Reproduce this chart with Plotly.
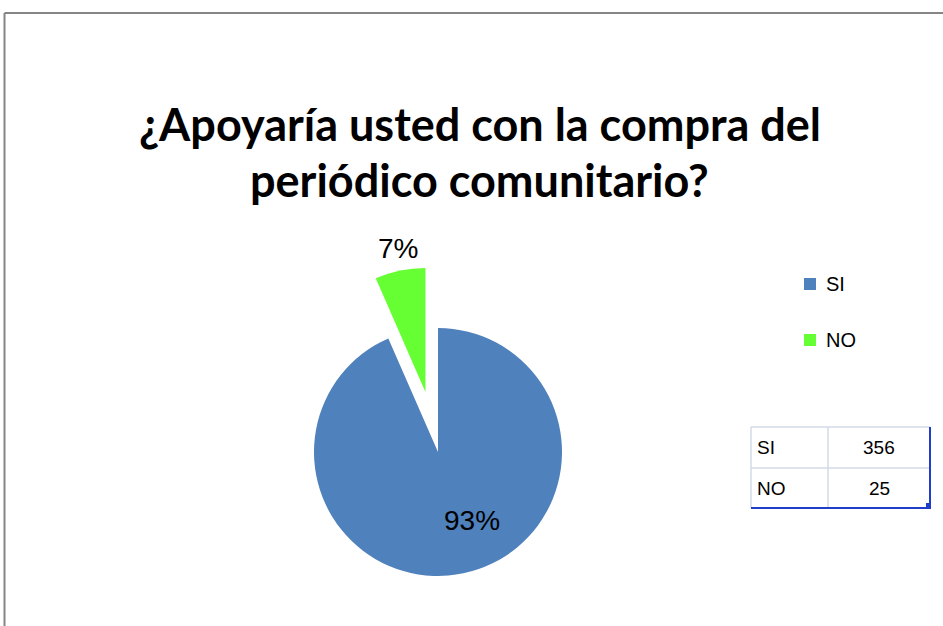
import math
import plotly.graph_objects as go

# ---- data ----
labels = ["SI", "NO"]
counts = [356, 25]
colors = ["#4F81BD", "#66FF33"]
pulls = [0, 0.495]
title_lines = ["¿Apoyaría usted con la compra del", "periódico comunitario?"]

W, H = 943, 626


def px(x):
    return x / W


def py(y):
    return 1 - y / H


# pie geometry (pixels): centre and radius of the un-pulled pie
cx, cy, r = 438, 452, 124
total = sum(counts)
# where Excel put each percentage label (pixels)
label_pos = [(472, 520), (398, 248)]

fig = go.Figure()
# one layer per slice so the exploded slice can sit outside the main pie box
start = 0.0
for i, (lab, val) in enumerate(zip(labels, counts)):
    frac = val / total
    mid = 2 * math.pi * (start + frac / 2)       # clockwise from 12 o'clock
    start += frac
    ox = pulls[i] * r * math.sin(mid)
    oy = -pulls[i] * r * math.cos(mid)
    scx, scy = cx + ox, cy + oy
    slice_colors = [c if j == i else "rgba(0,0,0,0)" for j, c in enumerate(colors)]
    fig.add_trace(go.Pie(
        labels=labels,
        values=counts,
        marker=dict(colors=slice_colors, line=dict(width=0)),
        sort=False,
        direction="clockwise",
        rotation=0,
        textinfo="none",
        showlegend=False,
        hoverinfo="label+value+percent",
        domain=dict(x=[px(scx - r), px(scx + r)],
                    y=[py(scy + r), py(scy - r)]),
    ))

shapes = []
annotations = []

# percentage labels
for i, val in enumerate(counts):
    lx, ly = label_pos[i]
    annotations.append(dict(
        text=f"{round(100 * val / total)}%", xref="paper", yref="paper",
        x=px(lx), y=py(ly), xanchor="center", yanchor="middle",
        showarrow=False,
        font=dict(family="Liberation Sans", size=28, color="black")))

# outer chart frame (cropped Excel chart area)
frame = dict(type="line", xref="paper", yref="paper",
             line=dict(color="#858585", width=2))
shapes.append(dict(frame, x0=px(4.5), x1=px(W), y0=py(13), y1=py(13)))
shapes.append(dict(frame, x0=px(4.5), x1=px(4.5), y0=py(13), y1=py(H)))

# title (two lines)
for i, line in enumerate(title_lines):
    annotations.append(dict(
        text=f"<b>{line}</b>", xref="paper", yref="paper",
        x=px(480), y=py(124 + 56 * i), xanchor="center", yanchor="middle",
        showarrow=False,
        font=dict(family="Lato", size=45, color="black")))

# legend
for i, (lab, col) in enumerate(zip(labels, colors)):
    yc = 284 + 56 * i
    shapes.append(dict(type="rect", xref="paper", yref="paper",
                       x0=px(804), x1=px(816), y0=py(yc - 6), y1=py(yc + 6),
                       fillcolor=col, line=dict(width=0)))
    annotations.append(dict(
        text=lab, xref="paper", yref="paper", x=px(824), y=py(yc),
        xanchor="left", yanchor="middle", showarrow=False,
        font=dict(family="Liberation Sans", size=20, color="black")))

# data table
xs = [751, 828, 930]
ys = [427, 468, 508]
grid = "#D3DAE8"
for x in xs[:2]:
    shapes.append(dict(type="line", xref="paper", yref="paper",
                       x0=px(x), x1=px(x), y0=py(ys[0]), y1=py(ys[-1]),
                       line=dict(color=grid, width=1.5)))
for y in ys[:2]:
    shapes.append(dict(type="line", xref="paper", yref="paper",
                       x0=px(xs[0]), x1=px(xs[-1]), y0=py(y), y1=py(y),
                       line=dict(color=grid, width=1.5)))
blue = "#1F3FC8"
shapes.append(dict(type="line", xref="paper", yref="paper",
                   x0=px(xs[0]), x1=px(xs[-1]), y0=py(ys[-1]), y1=py(ys[-1]),
                   line=dict(color=blue, width=2)))
shapes.append(dict(type="line", xref="paper", yref="paper",
                   x0=px(xs[-1]), x1=px(xs[-1]), y0=py(ys[0]), y1=py(ys[-1]),
                   line=dict(color=blue, width=2)))
shapes.append(dict(type="rect", xref="paper", yref="paper",
                   x0=px(926), x1=px(931), y0=py(503), y1=py(509),
                   fillcolor=blue, line=dict(width=0)))
for i, (lab, val) in enumerate(zip(labels, counts)):
    yc = (ys[i] + ys[i + 1]) / 2
    annotations.append(dict(
        text=lab, xref="paper", yref="paper", x=px(755), y=py(yc),
        xanchor="left", yanchor="middle", showarrow=False,
        font=dict(family="Liberation Sans", size=19, color="black")))
    annotations.append(dict(
        text=str(val), xref="paper", yref="paper", x=px(879), y=py(yc),
        xanchor="center", yanchor="middle", showarrow=False,
        font=dict(family="Liberation Sans", size=19, color="black")))

fig.update_layout(
    width=W, height=H,
    margin=dict(l=0, r=0, t=0, b=0),
    paper_bgcolor="white",
    plot_bgcolor="white",
    shapes=shapes,
    annotations=annotations,
)

fig.write_html(
    "out.html",
    config={"displayModeBar": False},
    post_script="document.body.style.margin='0';"
                "document.body.style.overflow='hidden';",
)
